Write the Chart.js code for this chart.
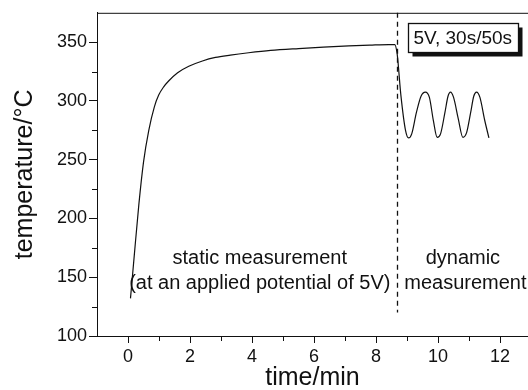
<!DOCTYPE html>
<html>
<head>
<meta charset="utf-8">
<script src="https://cdn.jsdelivr.net/npm/chart.js@4.4.0/dist/chart.umd.min.js"></script>
<style>
  html, body { margin: 0; padding: 0; background: #fff; overflow: hidden; }
</style>
</head>
<body>
<canvas id="chart" width="528" height="390"></canvas>
<script>
// static heating run, then on/off cycling
const STATIC_TIME = [0.08, 0.2, 0.35, 0.5, 0.67, 0.85, 0.99, 1.15, 1.31, 1.6, 1.96, 2.4, 2.82, 3.3, 3.89, 4.6, 5.5, 6.3, 7.12, 7.8, 8.41, 8.6];
const STATIC_TEMP = [132, 168, 212, 248, 275, 295, 305, 312, 317, 324, 329.5, 334, 337, 339, 341, 343, 344.6, 345.8, 346.8, 347.5, 348, 348];
const DYN_TIME = [8.68, 8.8, 8.95, 9.05, 9.15, 9.3, 9.45, 9.59, 9.72, 9.85, 9.97, 10.08, 10.22, 10.32, 10.4, 10.5, 10.65, 10.8, 10.92, 11.05, 11.15, 11.24, 11.35, 11.5, 11.64];
const DYN_TEMP = [340, 305, 275, 268.5, 272, 290, 304, 307.5, 303, 283, 269, 272, 290, 304, 307.5, 303, 285, 269, 273, 290, 304, 307.5, 303, 284, 268.5];
const SWITCH_TIME = 8.66;
const X_TICKS = [0, 2, 4, 6, 8, 10, 12];
const X_MINOR = [1, 3, 5, 7, 9, 11];
const Y_TICKS = [100, 150, 200, 250, 300, 350];
const Y_MINOR = [125, 175, 225, 275, 325];

const FONT = '"Liberation Sans", Arial, sans-serif';
const INK = '#111';

const points = STATIC_TIME.map((t, i) => ({ x: t, y: STATIC_TEMP[i] }))
  .concat(DYN_TIME.map((t, i) => ({ x: t, y: DYN_TEMP[i] })));

const extras = {
  id: 'extras',
  afterDraw(chart) {
    const { ctx, chartArea: a, scales: { x, y } } = chart;
    ctx.save();
    ctx.strokeStyle = INK;
    ctx.lineWidth = 1;

    // top frame
    ctx.beginPath();
    ctx.moveTo(a.left, a.top + 0.5);
    ctx.lineTo(a.right, a.top + 0.5);
    ctx.stroke();

    // minor ticks
    ctx.beginPath();
    X_MINOR.forEach(v => {
      const px = Math.round(x.getPixelForValue(v)) + 0.5;
      ctx.moveTo(px, a.bottom);
      ctx.lineTo(px, a.bottom + 5);
    });
    Y_MINOR.forEach(v => {
      const py = Math.round(y.getPixelForValue(v)) + 0.5;
      ctx.moveTo(a.left, py);
      ctx.lineTo(a.left - 5, py);
    });
    ctx.stroke();

    // switch line
    const sx = Math.round(x.getPixelForValue(SWITCH_TIME)) + 0.5;
    ctx.setLineDash([5, 4]);
    ctx.lineWidth = 1.3;
    ctx.beginPath();
    ctx.moveTo(sx, a.top);
    ctx.lineTo(sx, y.getPixelForValue(120));
    ctx.stroke();
    ctx.setLineDash([]);

    // labels
    ctx.fillStyle = INK;
    ctx.font = '20px ' + FONT;
    ctx.textAlign = 'center';
    ctx.textBaseline = 'middle';
    ctx.fillText('static measurement', x.getPixelForValue(4.25), y.getPixelForValue(166));
    ctx.fillText('(at an applied potential of 5V)', x.getPixelForValue(4.25), y.getPixelForValue(145));
    ctx.fillText('dynamic', x.getPixelForValue(10.8), y.getPixelForValue(166));
    ctx.fillText('measurement', x.getPixelForValue(10.88), y.getPixelForValue(145));

    // boxed note with drop shadow
    const bx = 408.5, by = 23.5, bw = 110, bh = 29;
    ctx.fillStyle = INK;
    ctx.fillRect(bx + 4, by + 4, bw, bh);
    ctx.fillStyle = '#fff';
    ctx.fillRect(bx, by, bw, bh);
    ctx.strokeRect(bx, by, bw, bh);
    ctx.fillStyle = INK;
    ctx.font = '19px ' + FONT;
    ctx.textAlign = 'left';
    ctx.fillText('5V, 30s/50s', bx + 5, by + bh / 2 + 1);
    ctx.restore();
  }
};

new Chart(document.getElementById('chart'), {
  type: 'line',
  data: {
    datasets: [{
      data: points,
      borderColor: INK,
      borderWidth: 1.2,
      pointRadius: 0,
      cubicInterpolationMode: 'monotone',
      fill: false
    }]
  },
  options: {
    responsive: false,
    animation: false,
    layout: { padding: { top: 12, right: 0, left: 0, bottom: 0 } },
    plugins: { legend: { display: false }, tooltip: { enabled: false } },
    scales: {
      x: {
        type: 'linear',
        min: -1,
        max: 12.9,
        afterBuildTicks: s => { s.ticks = X_TICKS.map(v => ({ value: v })); },
        afterFit: s => { s.height = 54; },
        grid: { drawOnChartArea: false, color: INK, tickLength: 7 },
        border: { color: INK, width: 1 },
        ticks: { color: INK, font: { family: FONT, size: 18 }, padding: 3, maxRotation: 0 },
        title: { display: true, text: 'time/min', color: INK, font: { family: FONT, size: 25, lineHeight: 1 }, padding: { top: 0, bottom: -1 } }
      },
      y: {
        min: 100,
        max: 375,
        afterBuildTicks: s => { s.ticks = Y_TICKS.map(v => ({ value: v })); },
        afterFit: s => { s.width = 97; },
        grid: { drawOnChartArea: false, color: INK, tickLength: 8 },
        border: { color: INK, width: 1 },
        ticks: { color: INK, font: { family: FONT, size: 18 }, padding: 2 },
        title: { display: true, text: 'temperature/°C', color: INK, font: { family: FONT, size: 25, lineHeight: 1.2 }, padding: { top: 10, bottom: 0 } }
      }
    }
  },
  plugins: [extras]
});
</script>
</body>
</html>
